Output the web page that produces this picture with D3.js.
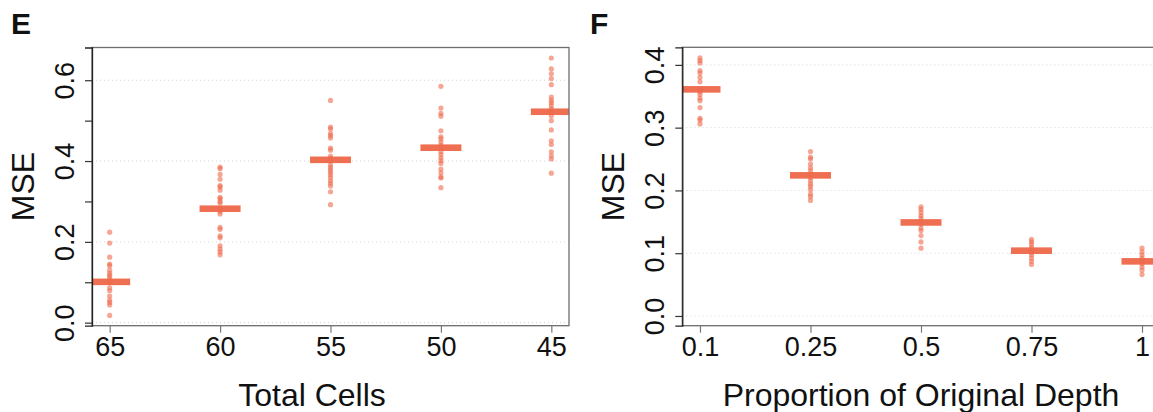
<!DOCTYPE html>
<html>
<head>
<meta charset="utf-8">
<script src="https://cdn.jsdelivr.net/npm/d3@7/dist/d3.min.js"></script>
<style>
  body { margin: 0; background: #fff; }
  text { font-family: "Liberation Sans", Arial, Helvetica, sans-serif; fill: #111; }
</style>
</head>
<body>
<svg width="1153" height="412"></svg>
<script>
// Panel E: MSE by total cells
const cellsCategories = ["65", "60", "55", "50", "45"];
const cellsMSE = [
  [0.224, 0.197, 0.162, 0.145, 0.141, 0.130, 0.122, 0.117, 0.112, 0.104, 0.101, 0.099, 0.086, 0.079, 0.066, 0.056, 0.050, 0.044, 0.018],
  [0.385, 0.381, 0.367, 0.355, 0.339, 0.336, 0.328, 0.310, 0.307, 0.300, 0.296, 0.283, 0.275, 0.269, 0.236, 0.231, 0.215, 0.210, 0.190, 0.182, 0.175, 0.168],
  [0.550, 0.484, 0.479, 0.468, 0.463, 0.457, 0.432, 0.427, 0.412, 0.406, 0.400, 0.390, 0.384, 0.378, 0.372, 0.366, 0.359, 0.351, 0.345, 0.338, 0.324, 0.292],
  [0.585, 0.531, 0.518, 0.511, 0.475, 0.460, 0.455, 0.447, 0.439, 0.432, 0.423, 0.416, 0.408, 0.401, 0.394, 0.380, 0.371, 0.361, 0.358, 0.334],
  [0.655, 0.628, 0.616, 0.604, 0.589, 0.558, 0.550, 0.544, 0.537, 0.529, 0.521, 0.512, 0.500, 0.477, 0.450, 0.441, 0.423, 0.413, 0.405, 0.370]
];
const cellsMedian = [0.101, 0.282, 0.403, 0.433, 0.522];

// Panel F: MSE by proportion of original depth
const depthCategories = ["0.1", "0.25", "0.5", "0.75", "1"];
const depthMSE = [
  [0.411, 0.407, 0.403, 0.391, 0.387, 0.380, 0.373, 0.361, 0.357, 0.353, 0.347, 0.343, 0.332, 0.315, 0.312, 0.306],
  [0.262, 0.253, 0.250, 0.242, 0.236, 0.231, 0.226, 0.220, 0.215, 0.210, 0.206, 0.201, 0.194, 0.190, 0.184],
  [0.174, 0.170, 0.165, 0.160, 0.156, 0.151, 0.146, 0.140, 0.136, 0.128, 0.118, 0.108],
  [0.122, 0.118, 0.114, 0.109, 0.105, 0.101, 0.097, 0.092, 0.087, 0.082],
  [0.108, 0.102, 0.097, 0.092, 0.087, 0.083, 0.078, 0.073, 0.066]
];
const depthMedian = [0.361, 0.224, 0.149, 0.104, 0.087];

const cellsTicks = [0, 0.1, 0.2, 0.3, 0.4, 0.5, 0.6];
const cellsTickLabels = [0, 0.2, 0.4, 0.6];
const depthTicks = [0, 0.1, 0.2, 0.3, 0.4];
const depthTickLabels = [0, 0.1, 0.2, 0.3, 0.4];

const svg = d3.select("svg");
const dotColor = "#ee6a4c";
const barColor = "#ee6f52";

function drawPanel(p) {
  const x = d3.scalePoint().domain(p.categories).range([p.left, p.right]).padding(0.16);
  const y = d3.scaleLinear().domain(p.yDomain).range([p.bottom, p.top]);
  const g = svg.append("g");

  g.append("clipPath").attr("id", "clip-" + p.id)
    .append("rect")
    .attr("x", p.left).attr("y", p.top)
    .attr("width", p.right - p.left).attr("height", p.bottom - p.top);

  // dotted grid at labelled ticks
  g.selectAll(".grid").data(p.tickLabels).join("line")
    .attr("x1", p.left).attr("x2", p.right)
    .attr("y1", d => y(d)).attr("y2", d => y(d))
    .attr("stroke", "#d4d4d4").attr("stroke-width", 1)
    .attr("stroke-dasharray", "1,3");

  const plot = g.append("g").attr("clip-path", `url(#clip-${p.id})`);

  // median bars
  plot.selectAll(".bar").data(p.medians).join("rect")
    .attr("x", (d, i) => x(p.categories[i]) - 20.5)
    .attr("y", d => y(d) - 3.3)
    .attr("width", 41).attr("height", 6.6)
    .attr("fill", barColor);

  // individual points
  p.values.forEach((vals, i) => {
    plot.selectAll(null).data(vals).join("circle")
      .attr("cx", x(p.categories[i]))
      .attr("cy", d => y(d))
      .attr("r", 2.6)
      .attr("fill", dotColor)
      .attr("fill-opacity", 0.6);
  });

  // box
  g.append("rect")
    .attr("x", p.left).attr("y", p.top)
    .attr("width", p.right - p.left).attr("height", p.bottom - p.top)
    .attr("fill", "none").attr("stroke", "#6e6e6e").attr("stroke-width", 1.3);

  // y axis
  const yAxis = g.append("g").attr("transform", `translate(${p.left},0)`)
    .call(d3.axisLeft(y).tickValues(p.ticks).tickSize(7)
      .tickFormat(d => p.tickLabels.some(v => Math.abs(v - d) < 1e-9) ? d3.format(".1f")(d) : ""));
  yAxis.select(".domain").attr("stroke", "#222").attr("stroke-width", 1.3);
  yAxis.selectAll(".tick line").attr("stroke", "#333").attr("stroke-width", 1.2);
  yAxis.selectAll(".tick text")
    .attr("x", 0).attr("dy", 0)
    .attr("text-anchor", "middle")
    .attr("transform", "translate(-18,0) rotate(-90)")
    .style("font-size", "27px").attr("fill", "#111");

  // x axis
  const xAxis = g.append("g").attr("transform", `translate(0,${p.bottom})`)
    .call(d3.axisBottom(x).tickSize(7));
  xAxis.select(".domain").remove();
  xAxis.selectAll(".tick line").attr("stroke", "#777").attr("stroke-width", 1.2);
  xAxis.selectAll(".tick text")
    .attr("y", 30).attr("dy", 0)
    .style("font-size", "27px").attr("fill", "#111");

  // axis titles
  g.append("text")
    .attr("x", p.xTitleX).attr("y", 406)
    .attr("text-anchor", "middle")
    .style("font-size", "32px")
    .text(p.xTitle);

  g.append("text")
    .attr("transform", `translate(${p.left - 58},${(p.top + p.bottom) / 2}) rotate(-90)`)
    .attr("text-anchor", "middle")
    .style("font-size", "32px")
    .text("MSE");

  // panel letter
  g.append("text")
    .attr("x", p.letterX).attr("y", 34)
    .style("font-size", "30px").style("font-weight", "bold")
    .text(p.id);
}

drawPanel({
  id: "E", categories: cellsCategories, values: cellsMSE, medians: cellsMedian,
  left: 92, right: 569, top: 47.5, bottom: 325.7,
  yDomain: [-0.0075, 0.681], ticks: cellsTicks, tickLabels: cellsTickLabels,
  xTitle: "Total Cells", xTitleX: 312, letterX: 11
});

drawPanel({
  id: "F", categories: depthCategories, values: depthMSE, medians: depthMedian,
  left: 682.3, right: 1159.7, top: 47.3, bottom: 325.7,
  yDomain: [-0.0155, 0.428], ticks: depthTicks, tickLabels: depthTickLabels,
  xTitle: "Proportion of Original Depth", xTitleX: 921, letterX: 590
});
</script>
</body>
</html>
